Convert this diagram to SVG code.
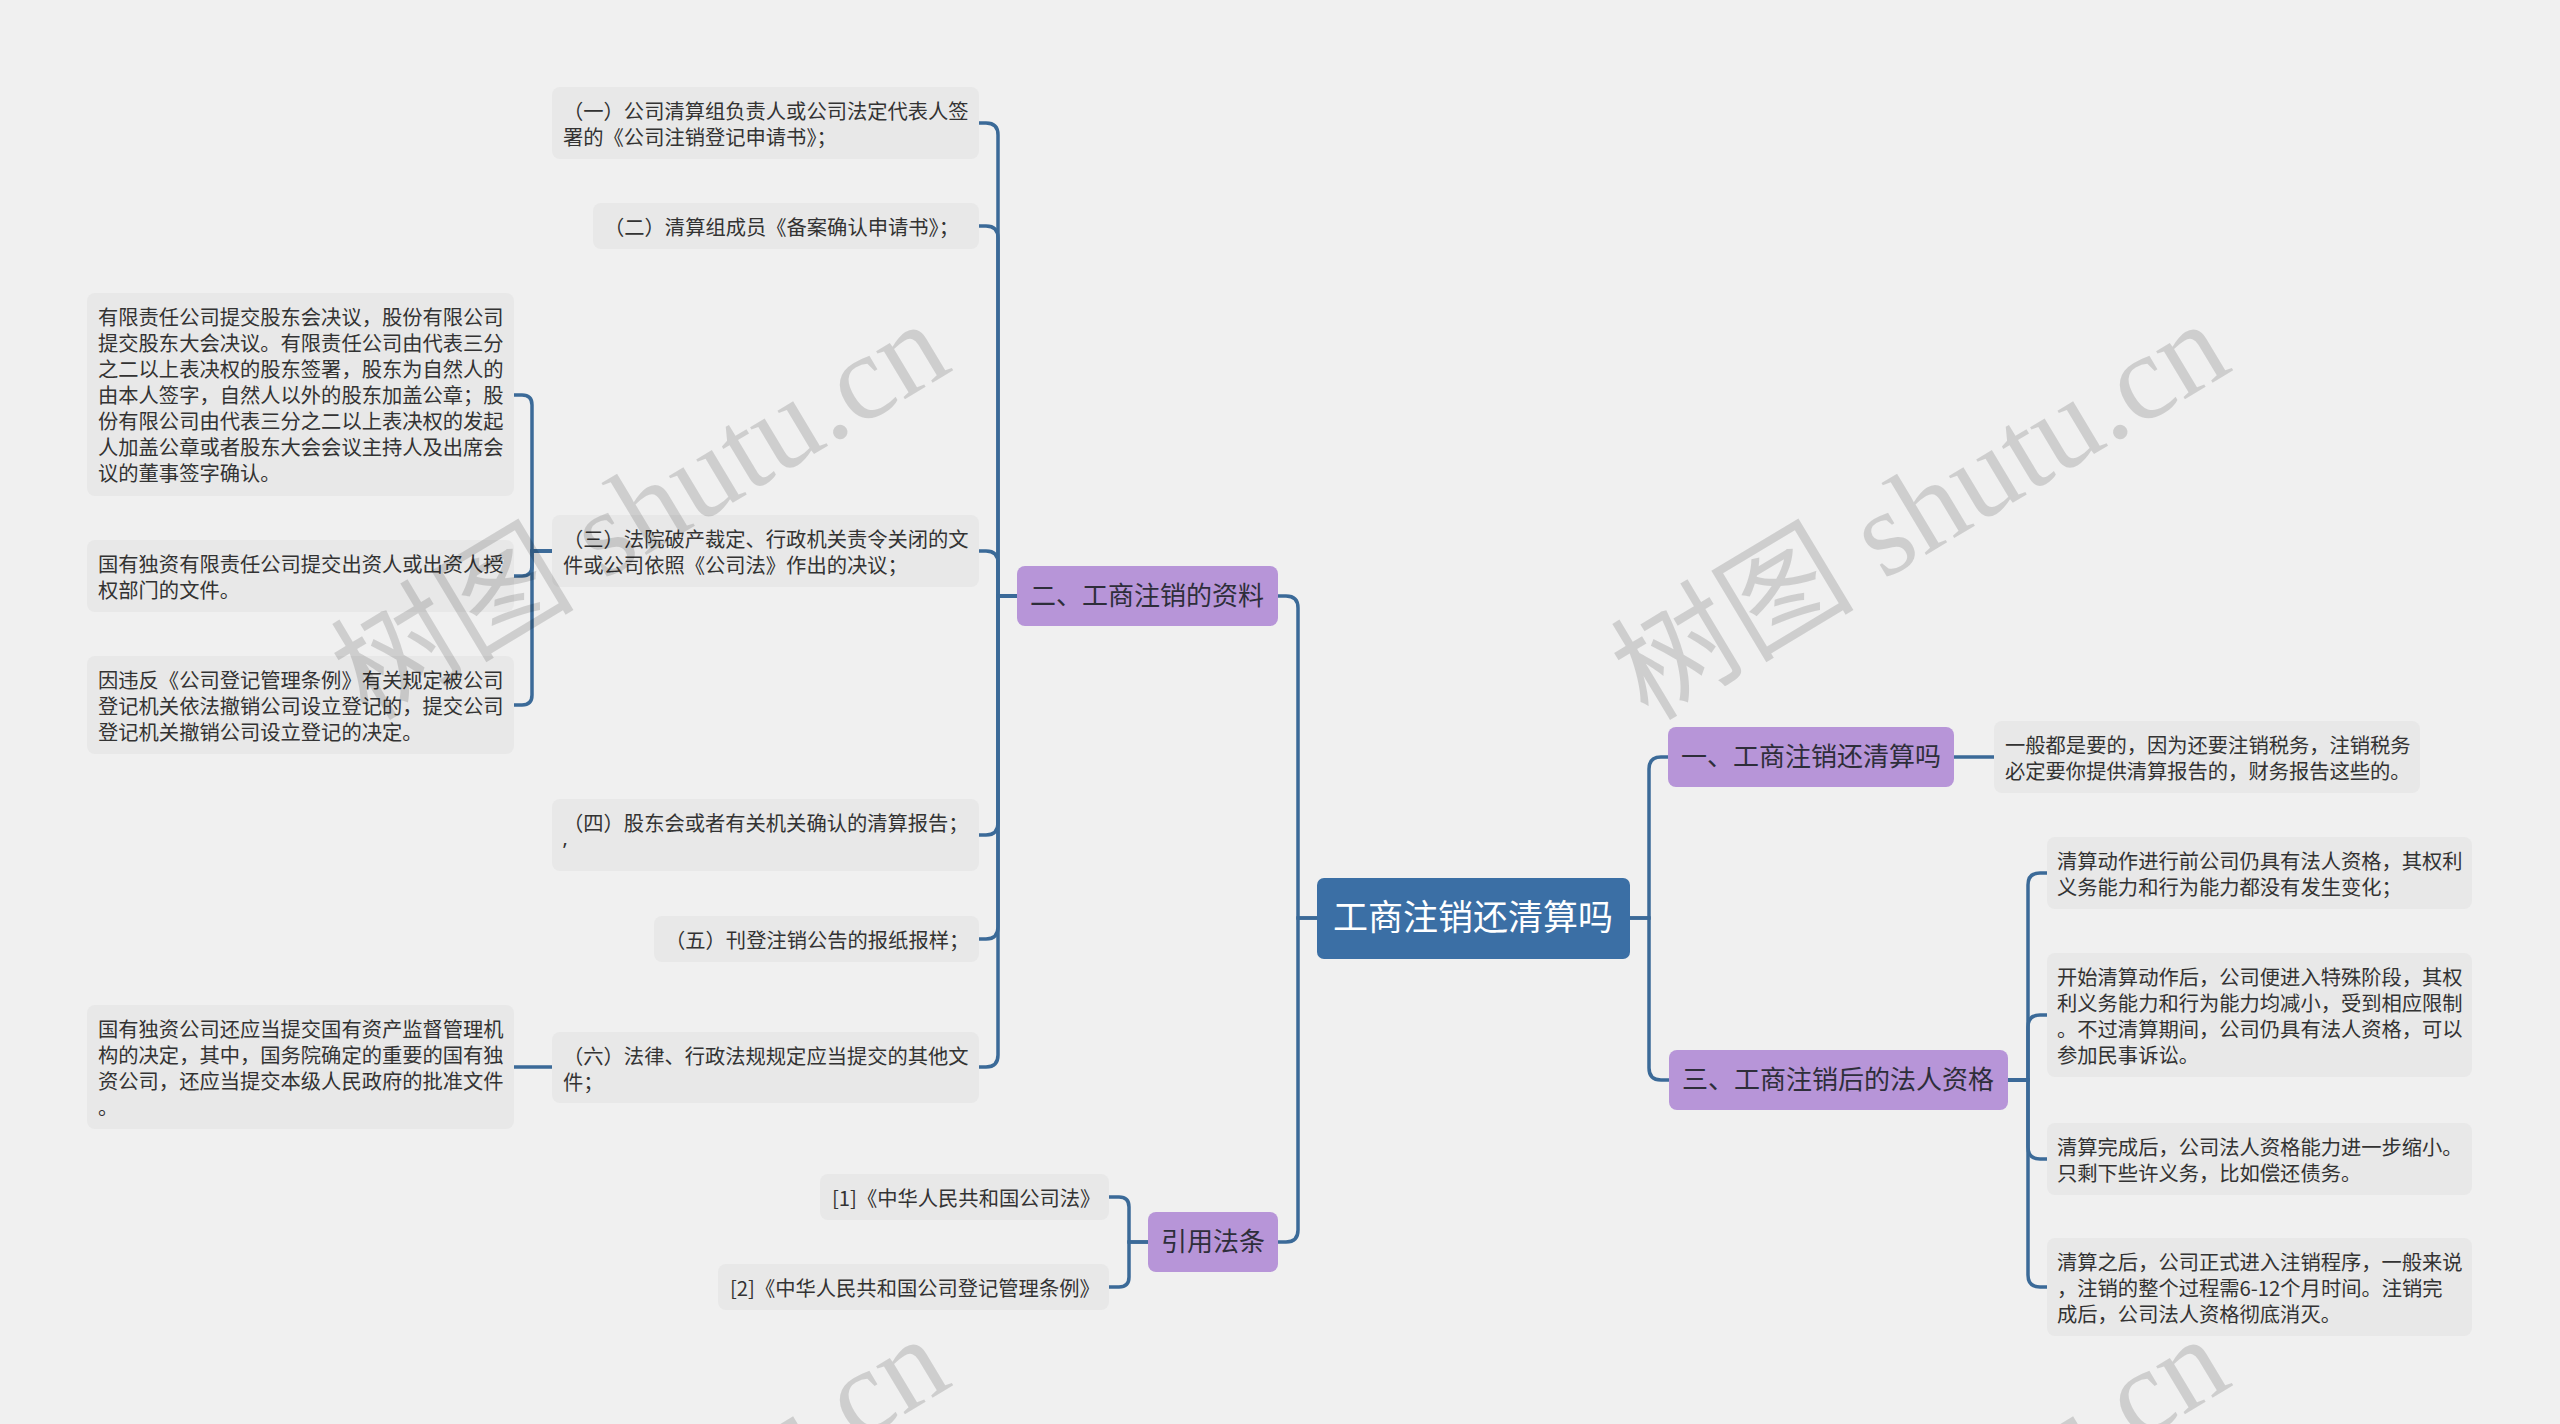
<svg xmlns="http://www.w3.org/2000/svg" width="2560" height="1424" viewBox="0 0 2560 1424">
<style>
.leaf rect{fill:#e8e8e8}
.leaf text{font-family:"Noto Sans CJK SC","Noto Sans",sans-serif;font-size:20.3px;fill:#333}
.br rect{fill:#b795d8}
.br text{font-family:"Noto Sans CJK SC","Noto Sans",sans-serif;font-size:26px;fill:#2e2e3a;text-anchor:middle}
.root rect{fill:#3b6fa5}
.root text{font-family:"Noto Sans CJK SC","Noto Sans",sans-serif;font-size:35px;fill:#fff;text-anchor:middle}
#connectors path{fill:none;stroke:#3b6a98;stroke-width:3.5}
.wm{font-family:"Liberation Serif","Noto Sans CJK SC",serif;font-size:122px;fill:#000;fill-opacity:0.14}
</style>
<rect width="2560" height="1424" fill="#f0f0f0"/>

<g id="connectors">
<path d="M1317,918 H1298 V608 Q1298,596 1286,596 H1277"/>
<path d="M1317,918 H1298 V1230 Q1298,1242 1286,1242 H1277"/>
<path d="M1629,918 H1649 V769 Q1649,757 1661,757 H1669"/>
<path d="M1629,918 H1649 V1068 Q1649,1080 1661,1080 H1669"/>
<path d="M1017,596 H998 V135 Q998,123 986,123 H978"/>
<path d="M1017,596 H998 V238 Q998,226 986,226 H978"/>
<path d="M1017,596 H998 V563 Q998,551 986,551 H978"/>
<path d="M1017,596 H998 V823 Q998,835 986,835 H978"/>
<path d="M1017,596 H998 V927 Q998,939 986,939 H978"/>
<path d="M1017,596 H998 V1055 Q998,1067 986,1067 H978"/>
<path d="M552,551 H532 V405 Q532,395 522,395 H513"/>
<path d="M552,551 H532 V566 Q532,576 522,576 H513"/>
<path d="M552,551 H532 V695 Q532,705 522,705 H513"/>
<path d="M552,1067 H513"/>
<path d="M1148,1242 H1129 V1207 Q1129,1197 1119,1197 H1109"/>
<path d="M1148,1242 H1129 V1277 Q1129,1287 1119,1287 H1109"/>
<path d="M1954,757 H1994"/>
<path d="M2008,1080 H2028 V885 Q2028,873 2040,873 H2047"/>
<path d="M2008,1080 H2028 V1027 Q2028,1015 2040,1015 H2047"/>
<path d="M2008,1080 H2028 V1147 Q2028,1159 2040,1159 H2047"/>
<path d="M2008,1080 H2028 V1275 Q2028,1287 2040,1287 H2047"/>
</g>

<g id="root" class="root"><rect x="1317" y="878" width="313" height="81" rx="7"/><text x="1473" y="930">工商注销还清算吗</text></g>

<g id="b2" class="br"><rect x="1017" y="566" width="261" height="60" rx="8"/><text x="1147" y="605">二、工商注销的资料</text></g>
<g id="bref" class="br"><rect x="1148" y="1212" width="130" height="60" rx="8"/><text x="1213" y="1251">引用法条</text></g>
<g id="b1" class="br"><rect x="1668" y="727" width="286" height="60" rx="8"/><text x="1811" y="766">一、工商注销还清算吗</text></g>
<g id="b3" class="br"><rect x="1669" y="1050" width="339" height="60" rx="8"/><text x="1838" y="1089">三、工商注销后的法人资格</text></g>

<g id="l1" class="leaf"><rect x="552" y="87" width="427" height="72" rx="8"/><text x="563" y="119"><tspan x="563">（一）公司清算组负责人或公司法定代表人签</tspan><tspan x="563" dy="26">署的《公司注销登记申请书》；</tspan></text></g>
<g id="l2" class="leaf"><rect x="593" y="203" width="386" height="46" rx="8"/><text x="604" y="235">（二）清算组成员《备案确认申请书》；</text></g>
<g id="l3" class="leaf"><rect x="552" y="515" width="427" height="72" rx="8"/><text x="563" y="547"><tspan x="563">（三）法院破产裁定、行政机关责令关闭的文</tspan><tspan x="563" dy="26">件或公司依照《公司法》作出的决议；</tspan></text></g>
<g id="l4" class="leaf"><rect x="552" y="799" width="427" height="72" rx="8"/><text x="563" y="831"><tspan x="563">（四）股东会或者有关机关确认的清算报告；</tspan><tspan x="563" dy="26" font-family="Noto Sans,sans-serif">’</tspan></text></g>
<g id="l5" class="leaf"><rect x="654" y="916" width="325" height="46" rx="8"/><text x="665" y="948">（五）刊登注销公告的报纸报样；</text></g>
<g id="l6" class="leaf"><rect x="552" y="1032" width="427" height="71" rx="8"/><text x="563" y="1064"><tspan x="563">（六）法律、行政法规规定应当提交的其他文</tspan><tspan x="563" dy="26">件；</tspan></text></g>

<g id="l3a" class="leaf"><rect x="87" y="293" width="427" height="203" rx="8"/><text x="98" y="325"><tspan x="98">有限责任公司提交股东会决议，股份有限公司</tspan><tspan x="98" dy="26">提交股东大会决议。有限责任公司由代表三分</tspan><tspan x="98" dy="26">之二以上表决权的股东签署，股东为自然人的</tspan><tspan x="98" dy="26">由本人签字，自然人以外的股东加盖公章；股</tspan><tspan x="98" dy="26">份有限公司由代表三分之二以上表决权的发起</tspan><tspan x="98" dy="26">人加盖公章或者股东大会会议主持人及出席会</tspan><tspan x="98" dy="26">议的董事签字确认。</tspan></text></g>
<g id="l3b" class="leaf"><rect x="87" y="540" width="427" height="72" rx="8"/><text x="98" y="572"><tspan x="98">国有独资有限责任公司提交出资人或出资人授</tspan><tspan x="98" dy="26">权部门的文件。</tspan></text></g>
<g id="l3c" class="leaf"><rect x="87" y="656" width="427" height="98" rx="8"/><text x="98" y="688"><tspan x="98">因违反《公司登记管理条例》有关规定被公司</tspan><tspan x="98" dy="26">登记机关依法撤销公司设立登记的，提交公司</tspan><tspan x="98" dy="26">登记机关撤销公司设立登记的决定。</tspan></text></g>
<g id="l6a" class="leaf"><rect x="87" y="1005" width="427" height="124" rx="8"/><text x="98" y="1037"><tspan x="98">国有独资公司还应当提交国有资产监督管理机</tspan><tspan x="98" dy="26">构的决定，其中，国务院确定的重要的国有独</tspan><tspan x="98" dy="26">资公司，还应当提交本级人民政府的批准文件</tspan><tspan x="98" dy="26">。</tspan></text></g>

<g id="ref1" class="leaf"><rect x="820" y="1174" width="289" height="46" rx="8"/><text x="832" y="1206" font-size="21">[1]《中华人民共和国公司法》</text></g>
<g id="ref2" class="leaf"><rect x="718" y="1264" width="391" height="46" rx="8"/><text x="730" y="1296" font-size="21">[2]《中华人民共和国公司登记管理条例》</text></g>

<g id="r1a" class="leaf"><rect x="1994" y="721" width="426" height="72" rx="8"/><text x="2005" y="753"><tspan x="2005">一般都是要的，因为还要注销税务，注销税务</tspan><tspan x="2005" dy="26">必定要你提供清算报告的，财务报告这些的。</tspan></text></g>
<g id="r3a" class="leaf"><rect x="2047" y="837" width="425" height="72" rx="8"/><text x="2057" y="869"><tspan x="2057">清算动作进行前公司仍具有法人资格，其权利</tspan><tspan x="2057" dy="26">义务能力和行为能力都没有发生变化；</tspan></text></g>
<g id="r3b" class="leaf"><rect x="2047" y="953" width="425" height="124" rx="8"/><text x="2057" y="985"><tspan x="2057">开始清算动作后，公司便进入特殊阶段，其权</tspan><tspan x="2057" dy="26">利义务能力和行为能力均减小，受到相应限制</tspan><tspan x="2057" dy="26">。不过清算期间，公司仍具有法人资格，可以</tspan><tspan x="2057" dy="26">参加民事诉讼。</tspan></text></g>
<g id="r3c" class="leaf"><rect x="2047" y="1123" width="425" height="72" rx="8"/><text x="2057" y="1155"><tspan x="2057">清算完成后，公司法人资格能力进一步缩小。</tspan><tspan x="2057" dy="26">只剩下些许义务，比如偿还债务。</tspan></text></g>
<g id="r3d" class="leaf"><rect x="2047" y="1238" width="425" height="98" rx="8"/><text x="2057" y="1270"><tspan x="2057">清算之后，公司正式进入注销程序，一般来说</tspan><tspan x="2057" dy="26">，注销的整个过程需6-12个月时间。注销完</tspan><tspan x="2057" dy="26">成后，公司法人资格彻底消灭。</tspan></text></g>

<g id="watermarks">
<text class="wm" transform="translate(368,722) rotate(-31)">树图 shutu.cn</text>
<text class="wm" transform="translate(1648,722) rotate(-31)">树图 shutu.cn</text>
<text class="wm" transform="translate(368,1737) rotate(-31)">树图 shutu.cn</text>
<text class="wm" transform="translate(1648,1737) rotate(-31)">树图 shutu.cn</text>
</g>
</svg>
